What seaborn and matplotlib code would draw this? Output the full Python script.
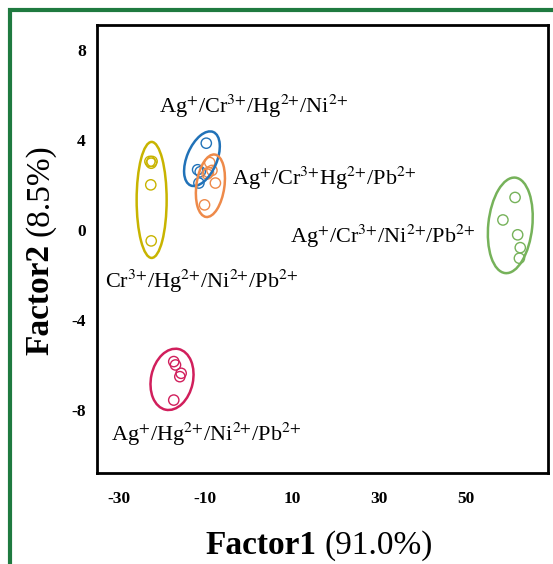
import numpy as np
import pandas as pd
import matplotlib
matplotlib.use("Agg")
import matplotlib.pyplot as plt
import matplotlib.transforms as mtransforms
from matplotlib.patches import Ellipse, Rectangle
import seaborn as sns

# PCA scores for each ion mixture (Factor1, Factor2)
groups = ["Ag/Cr/Hg/Ni", "Ag/Cr/Hg/Pb", "Ag/Cr/Ni/Pb", "Cr/Hg/Ni/Pb", "Ag/Hg/Ni/Pb"]
f1_AgCrHgNi = [-9.8, -11.8, -11.2, -11.5]
f2_AgCrHgNi = [3.85, 2.67, 2.58, 2.08]
f1_AgCrHgPb = [-9.0, -9.3, -8.5, -9.6, -7.7, -10.2]
f2_AgCrHgPb = [2.99, 2.55, 2.64, 2.48, 2.08, 1.11]
f1_AgCrNiPb = [61.4, 58.6, 62.0, 62.6, 62.4]
f2_AgCrNiPb = [1.44, 0.44, -0.22, -0.79, -1.26]
f1_CrHgNiPb = [-22.8, -22.5, -22.3, -22.6, -22.5]
f2_CrHgNiPb = [3.04, 2.96, 3.04, 2.0, -0.49]
f1_AgHgNiPb = [-17.3, -16.9, -15.6, -15.9, -17.3]
f2_AgHgNiPb = [-5.85, -6.0, -6.37, -6.52, -7.56]

# Centres of the group ellipses
ell_f1 = [-10.8, -8.85, 60.3, -22.4, -17.7]
ell_f2 = [3.16, 1.96, 0.2, 1.33, -6.64]

labels = [r"Ag$^{{+}}$/Cr$^{3{+}}$/Hg$^{2{+}}$/Ni$^{2{+}}$",
          r"Ag$^{{+}}$/Cr$^{3{+}}$Hg$^{2{+}}$/Pb$^{2{+}}$",
          r"Ag$^{{+}}$/Cr$^{3{+}}$/Ni$^{2{+}}$/Pb$^{2{+}}$",
          r"Cr$^{3{+}}$/Hg$^{2{+}}$/Ni$^{2{+}}$/Pb$^{2{+}}$",
          r"Ag$^{{+}}$/Hg$^{2{+}}$/Ni$^{2{+}}$/Pb$^{2{+}}$"]
label_f1 = [-20.8, -3.8, 9.5, -33.2, -31.8]
label_f2 = [5.47, 2.3, -0.27, -2.3, -9.1]

xticks = [-30, -10, 10, 30, 50]
yticks = [-8, -4, 0, 4, 8]

colors = ["#2172b8", "#ee8a4a", "#76b25a", "#c8b400", "#d11f5c"]
# ellipse shape in screen inches: (width, height, angle)
shapes = [(0.30, 0.58, -23), (0.28, 0.63, -8), (0.44, 0.96, -6),
          (0.30, 1.16, 0), (0.42, 0.62, -12)]

sns.set_theme(style="white")
plt.rcParams["font.family"] = ["Liberation Serif", "DejaVu Serif"]
plt.rcParams["mathtext.fontset"] = "stix"
plt.rcParams["text.color"] = "black"
plt.rcParams["xtick.color"] = "black"
plt.rcParams["ytick.color"] = "black"

f1_all = [f1_AgCrHgNi, f1_AgCrHgPb, f1_AgCrNiPb, f1_CrHgNiPb, f1_AgHgNiPb]
f2_all = [f2_AgCrHgNi, f2_AgCrHgPb, f2_AgCrNiPb, f2_CrHgNiPb, f2_AgHgNiPb]
df = pd.concat([pd.DataFrame({"Factor1": a, "Factor2": b, "group": g})
                for a, b, g in zip(f1_all, f2_all, groups)], ignore_index=True)

fig = plt.figure(figsize=(5.53, 5.64), dpi=100)
fig.patch.set_facecolor("white")
ax = fig.add_axes([0.1754, 0.1613, 0.8156, 0.7944])

sns.scatterplot(data=df, x="Factor1", y="Factor2", hue="group",
                palette=dict(zip(groups, colors)), s=55, marker="o",
                linewidth=1.0, legend=False, ax=ax)
for coll in ax.collections:
    fc = coll.get_facecolors()
    coll.set_edgecolors(fc)
    coll.set_facecolors("none")

for cx, cy, (w, h, ang), c in zip(ell_f1, ell_f2, shapes, colors):
    tr = fig.dpi_scale_trans + mtransforms.ScaledTranslation(cx, cy, ax.transData)
    ax.add_patch(Ellipse((0, 0), w, h, angle=ang, transform=tr,
                         fill=False, edgecolor=c, linewidth=1.8))

for lab, lx, ly in zip(labels, label_f1, label_f2):
    ax.text(lx, ly, lab, fontsize=16, ha="left", va="center", color="black")

ax.set_xlim(-35, 69)
ax.set_ylim(-10.8, 9.1)
ax.set_xticks(xticks)
ax.set_yticks(yticks)
ax.set_xticklabels([str(t) for t in xticks], fontweight="bold", fontsize=12.5)
ax.set_yticklabels([str(t) for t in yticks], fontweight="bold", fontsize=12.5)
ax.set_xlabel("")
ax.set_ylabel("")
ax.tick_params(axis="x", length=0, pad=13)
ax.tick_params(axis="y", length=0, pad=8)
for sp in ax.spines.values():
    sp.set_color("black")
    sp.set_linewidth(2)

fig.text(0.572, 0.033, "Factor1", fontsize=24, fontweight="bold", ha="right", va="center")
fig.text(0.586, 0.033, "(91.0%)", fontsize=24, ha="left", va="center")
fig.text(0.073, 0.567, "Factor2", fontsize=24, fontweight="bold", rotation=90,
         ha="center", va="top")
fig.text(0.073, 0.582, "(8.5%)", fontsize=24, rotation=90, ha="center", va="bottom")

# outer green frame
fig.add_artist(Rectangle((10 / 553, -0.1), 1.2, 1.0 - 10 / 564 + 0.1,
                         transform=fig.transFigure, fill=False,
                         edgecolor="#1f7a40", linewidth=3))

fig.savefig("out.png", dpi=100)
